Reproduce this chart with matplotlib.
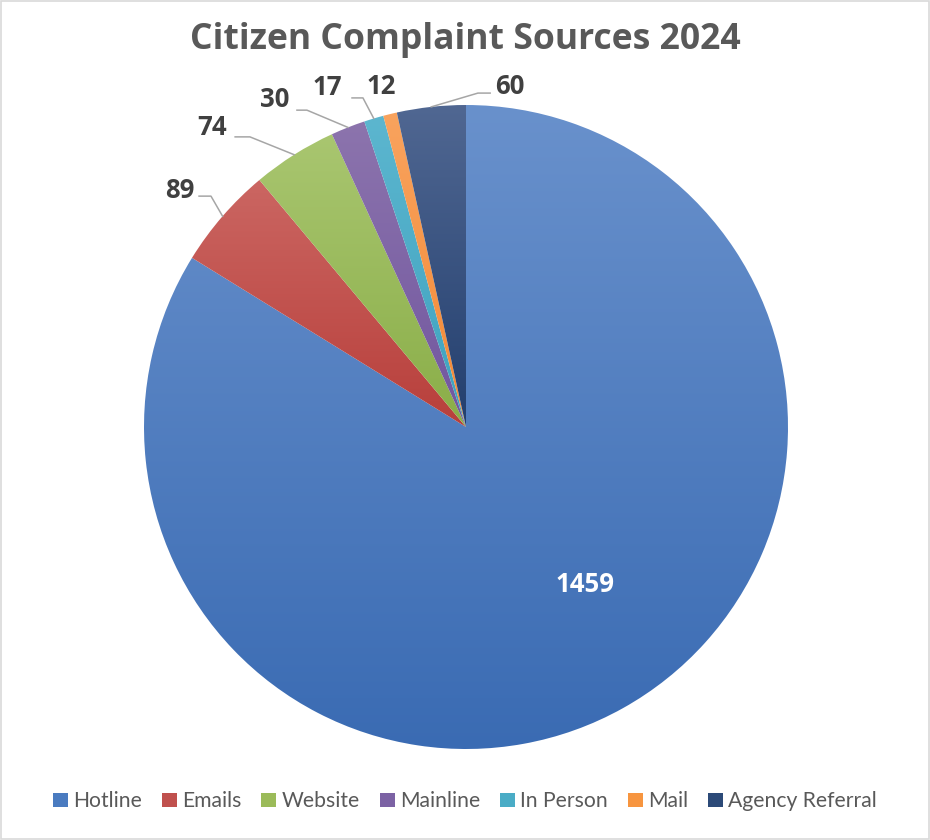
import numpy as np
import matplotlib.pyplot as plt
from matplotlib.colors import LinearSegmentedColormap
from matplotlib.patches import Rectangle

# data
sources = ["Hotline", "Emails", "Website", "Mainline", "In Person", "Mail", "Agency Referral"]
counts = [1459, 89, 74, 30, 17, 12, 60]

# gradient colours per slice (top, bottom)
top_colors = ["#6991cc", "#cb6662", "#a9c670", "#8c74ad", "#5cb6cf", "#f9a35e", "#506792"]
bottom_colors = ["#3a6bb3", "#b83f3b", "#8aae48", "#71569f", "#3ea2bf", "#f38935", "#233f6e"]
legend_colors = ["#4a7bc0", "#c0504d", "#9bbb59", "#7c62a4", "#4aacc6", "#f7953f", "#2c4a78"]

# label layout in pie coords (radius 1): text centre, and the short horizontal leader piece
label_pos = [(0.37, -0.49), (-0.888, 0.736), (-0.789, 0.929), (-0.593, 1.016),
             (-0.432, 1.053), (-0.264, 1.059), (0.137, 1.059)]
leader_h = [None, (-0.829, -0.792, 0.717), (-0.717, -0.671, 0.901), (-0.525, -0.494, 0.984),
            (-0.354, -0.320, 1.022), None, (0.075, 0.037, 1.037)]

plt.rcParams['font.family'] = ['Lato', 'DejaVu Sans']

fig = plt.figure(figsize=(9.3, 8.4), dpi=100)
fig.patches.append(Rectangle((0.001, 0.001), 0.998, 0.998, transform=fig.transFigure,
                             fill=False, edgecolor="#d9d9d9", linewidth=1.2))

ax = fig.add_axes([144 / 930, 91 / 840, 644 / 930, 644 / 840])

wedges, _ = ax.pie(counts, startangle=90, counterclock=False, radius=1,
                   wedgeprops=dict(linewidth=0, facecolor="none"))

grad = np.linspace(0, 1, 256).reshape(-1, 1)
for w, c1, c2 in zip(wedges, top_colors, bottom_colors):
    verts = w.get_path().vertices
    x0, y0 = verts.min(axis=0)
    x1, y1 = verts.max(axis=0)
    cmap = LinearSegmentedColormap.from_list("g", [c1, c2])
    im = ax.imshow(grad, cmap=cmap, extent=[x0, x1, y0, y1], aspect="auto",
                   origin="upper", zorder=1)
    im.set_clip_path(w)
ax.set_xlim(-1, 1)
ax.set_ylim(-1, 1)
ax.set_aspect("equal")
ax.axis("off")

# data labels
total = sum(counts)
start = 90.0
for i, (v, (lx, ly)) in enumerate(zip(counts, label_pos)):
    span = v / total * 360
    mid = np.deg2rad(start - span / 2)
    start -= span
    color = "white" if i == 0 else "#404040"
    ax.text(lx, ly, str(v), ha="center", va="center", fontsize=18.5,
            fontweight="bold", color=color, clip_on=False, zorder=5,
            family=["Open Sans", "DejaVu Sans"])
    if leader_h[i] is not None:
        xa, xb, yh = leader_h[i]
        ax.plot([xa, xb, np.cos(mid)], [yh, yh, np.sin(mid)], color="#a6a6a6",
                lw=1.1, clip_on=False, zorder=4)

fig.text(0.5, 0.952, "Citizen Complaint Sources 2024", ha="center", va="center",
         fontsize=25.6, fontweight="bold", color="#595959",
         family=["Open Sans", "DejaVu Sans"])

handles = [Rectangle((0, 0), 1, 1, facecolor=c, edgecolor="none") for c in legend_colors]
fig.legend(handles, sources, loc="center", bbox_to_anchor=(0.5, 0.046), ncol=7,
           frameon=False, fontsize=15.2, labelcolor="#595959", handlelength=0.7,
           handleheight=0.7, handletextpad=0.25, columnspacing=0.95)

fig.savefig("out.png", dpi=100)
